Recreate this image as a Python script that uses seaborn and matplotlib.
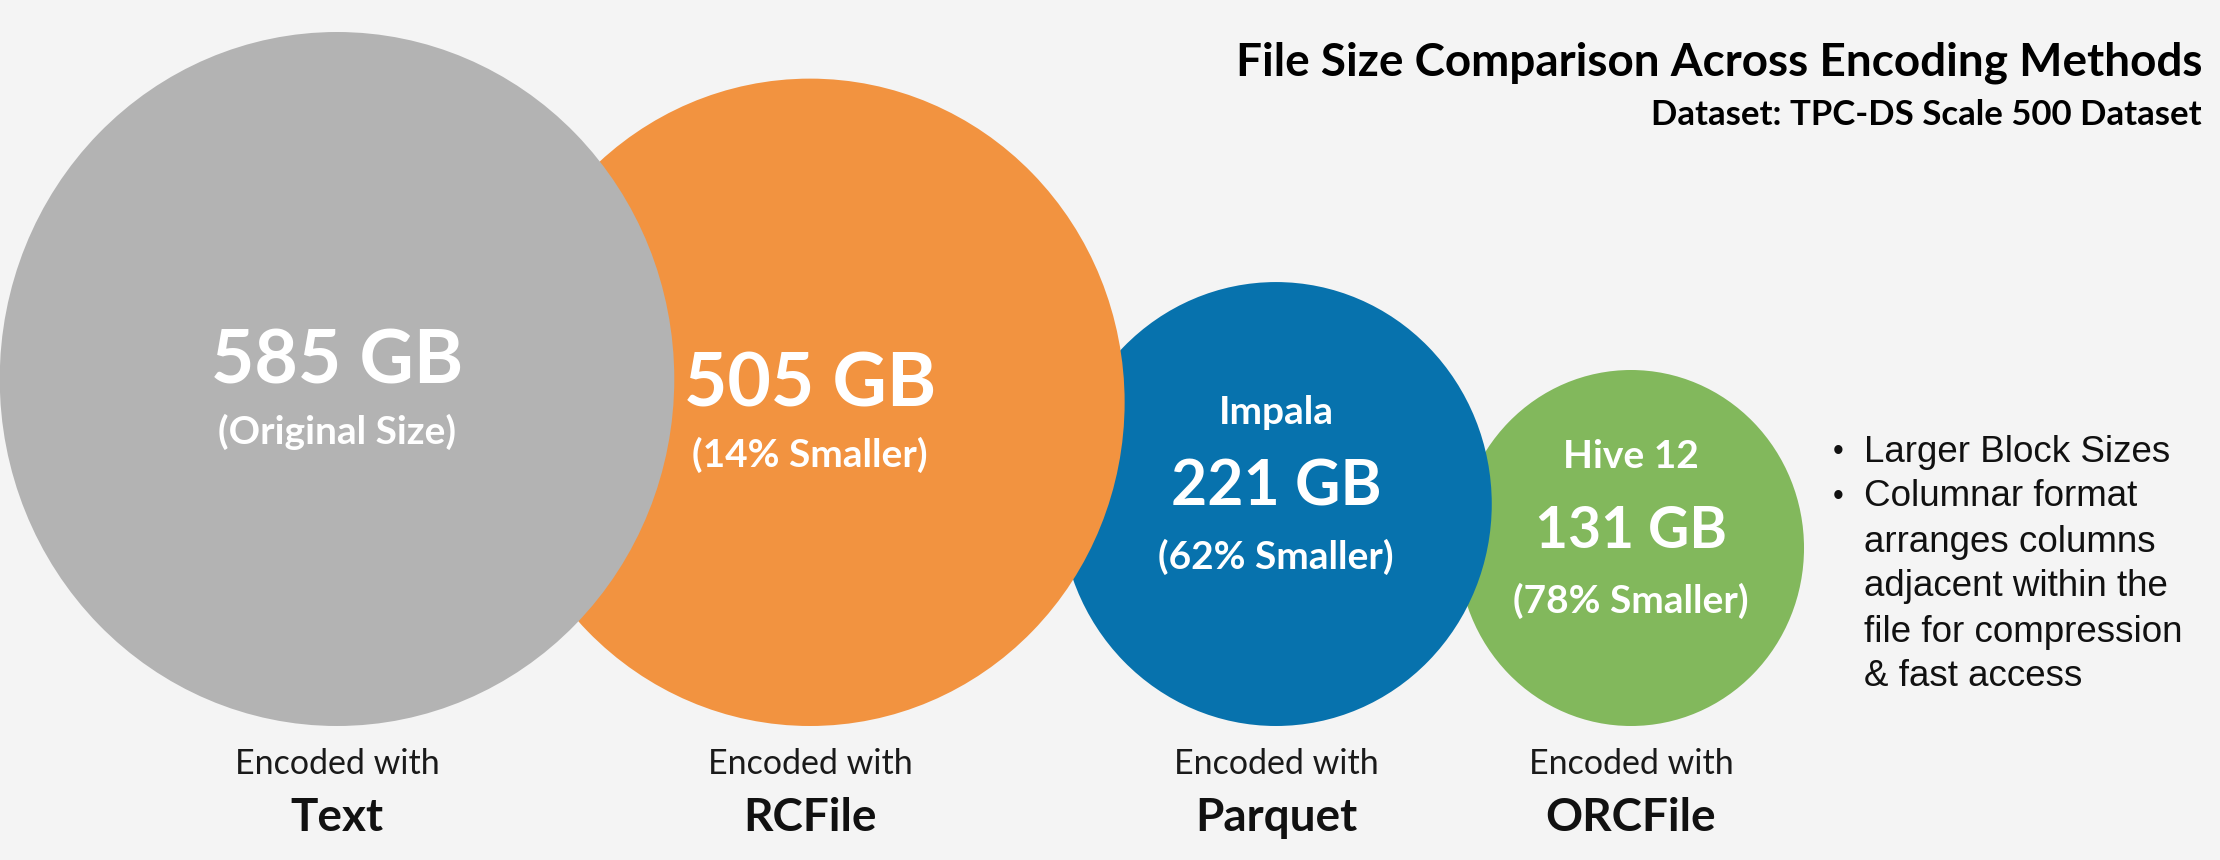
"""
Bubble infographic: file size of the TPC-DS scale 500 dataset per encoding.
"""
import numpy as np
import pandas as pd
import matplotlib
matplotlib.use("Agg")
from matplotlib import pyplot
from matplotlib.markers import MarkerStyle
from matplotlib.path import Path
from matplotlib.transforms import Affine2D
import seaborn

# --- data -------------------------------------------------------------------
formats = ["Text", "RCFile", "Parquet", "ORCFile"]
size_gb = [585, 505, 221, 131]
size_notes = ["(Original Size)", "(14% Smaller)", "(62% Smaller)", "(78% Smaller)"]
engines = ["", "", "Impala", "Hive 12"]
bullet_lines = [
    ("•", "Larger Block Sizes"),
    ("•", "Columnar format"),
    ("", "arranges columns"),
    ("", "adjacent within the"),
    ("", "file for compression"),
    ("", "& fast access"),
]
title = "File Size Comparison Across Encoding Methods"
subtitle = "Dataset: TPC-DS Scale 500 Dataset"

# --- style / layout ---------------------------------------------------------
palette = {"Text": "#B3B3B3", "RCFile": "#F29340", "Parquet": "#0772AD", "ORCFile": "#82B85C"}
BG = "#F4F4F4"
W, H, DPI = 2220, 860, 100
slot_x = [337, 810, 1276, 1631]      # horizontal slot of each bubble (px)
BASE_Y = 726                          # bubbles sit on this line (px)
R_MIN, R_MAX = 178, 347               # radius of smallest / largest bubble (px)
label_fonts = ["Lato", "DejaVu Sans"]
gb_fontsize = [54, 54, 45, 41]

seaborn.set_theme(style="white", rc={"figure.facecolor": BG, "axes.facecolor": BG})
pyplot.rcParams["font.family"] = label_fonts

df = pd.DataFrame({"format": formats, "gb": size_gb, "x": slot_x})
# area linear in size (same rule seaborn uses for its size mapping)
vmin, vmax = min(size_gb), max(size_gb)
df["r"] = np.sqrt(R_MIN**2 + (df["gb"] - vmin) / (vmax - vmin) * (R_MAX**2 - R_MIN**2))
df["y"] = BASE_Y - df["r"]


def px_to_area(r):
    # scatter size is (marker height in points)^2
    return (2 * r * 72 / DPI) ** 2


# the bubbles in the original are a touch narrower than tall
bubble = MarkerStyle(Path.unit_circle().transformed(Affine2D().scale(0.972, 1.0)))

fig = pyplot.figure(figsize=(W / DPI, H / DPI), dpi=DPI)
ax = fig.add_axes([0, 0, 1, 1])
# draw smallest first so the bigger bubbles on the left lie on top
seaborn.scatterplot(
    data=df.iloc[::-1], x="x", y="y", hue="format", palette=palette,
    size="gb", sizes=(px_to_area(R_MIN), px_to_area(R_MAX)), size_norm=(vmin, vmax),
    marker=bubble, linewidth=0, alpha=1, legend=False, ax=ax,
)
ax.set_xlim(0, W)
ax.set_ylim(H, 0)
ax.set_axis_off()

for i, row in df.iterrows():
    cx, cy = row["x"], row["y"]
    if engines[i]:
        ax.text(cx, cy - 92, engines[i], color="white", fontsize=28, fontweight="bold",
                ha="center", va="center")
    ax.text(cx, cy - 17, f"{row['gb']} GB", color="white", fontsize=gb_fontsize[i],
            fontweight="bold", ha="center", va="center")
    ax.text(cx, cy + 53, size_notes[i], color="white", fontsize=28, fontweight="bold",
            ha="center", va="center")
    ax.text(cx, 764, "Encoded with", color="#1A1A1A", fontsize=24.5, ha="center", va="center")
    ax.text(cx, 818, row["format"], color="#111111", fontsize=33, fontweight="bold",
            ha="center", va="center")

ax.text(2202, 63, title, color="black", fontsize=33, fontweight="bold", ha="right", va="center")
ax.text(2202, 115, subtitle, color="black", fontsize=25, fontweight="bold", ha="right", va="center")

for k, (bullet, line) in enumerate(bullet_lines):
    y = 452 + k * 45
    if bullet:
        ax.text(1838, y, bullet, color="#111111", fontsize=22, ha="center", va="center",
                family="Liberation Sans")
    ax.text(1864, y, line, color="#111111", fontsize=26.5, ha="left", va="center",
            family="Liberation Sans")

fig.savefig("out.png", dpi=DPI, facecolor=BG)
print("Saving plot to file: out.png")
